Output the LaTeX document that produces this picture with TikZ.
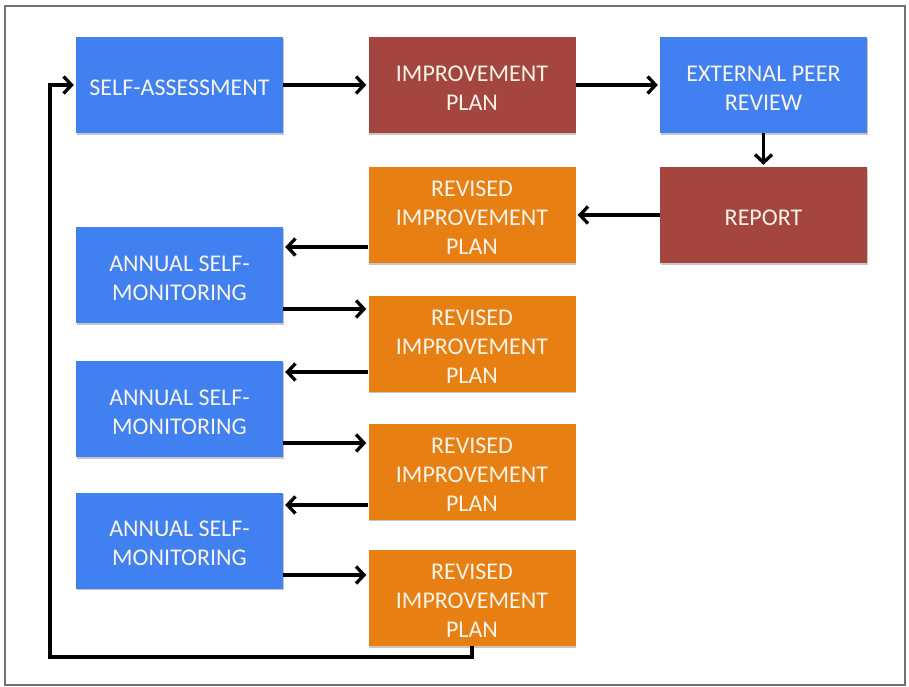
\documentclass[tikz,border=0pt]{standalone}
\usepackage{fontspec}
\setmainfont{Carlito}
\usetikzlibrary{arrows.meta,shadows}
\definecolor{bblue}{HTML}{4080F0}
\definecolor{bred}{HTML}{A4463F}
\definecolor{borange}{HTML}{E77F13}
\definecolor{btext}{HTML}{F8F4EA}
\definecolor{frame}{HTML}{707070}
\newcommand{\boxtxt}[1]{\raisebox{-5pt}[\height][\depth]{\begin{tabular}{@{}c@{}}#1\end{tabular}}}
\tikzset{
  box/.style={rectangle, minimum width=207pt, minimum height=96pt, inner sep=0pt,
    text=btext, font=\fontsize{24}{29}\selectfont,
    drop shadow={shadow xshift=0.8pt, shadow yshift=-1.6pt, opacity=0.22, fill=black}},
  bluebox/.style={box, fill=bblue},
  redbox/.style={box, fill=bred},
  orbox/.style={box, fill=borange},
  arr/.style={draw=black, line width=3.3pt, -{Straight Barb[length=8pt,width=17pt,line width=3.3pt]}, shorten >=2pt}
}
\begin{document}
\begin{tikzpicture}[x=1pt,y=-1pt]
\useasboundingbox (0,0) rectangle (909,687);
\draw[frame, line width=1.3pt] (5,6) rectangle (905,685);

\node[bluebox] (sa)  at (179.5,85) {\boxtxt{SELF-ASSESSMENT}};
\node[redbox]  (ip)  at (472,85) {\boxtxt{IMPROVEMENT\\PLAN}};
\node[bluebox] (epr) at (763.5,85) {\boxtxt{EXTERNAL PEER\\REVIEW}};
\node[redbox]  (rep) at (763.5,215) {\boxtxt{REPORT}};
\node[orbox]   (r1)  at (472,215) {\boxtxt{REVISED\\IMPROVEMENT\\PLAN}};
\node[bluebox] (a1)  at (179.5,275) {\boxtxt{ANNUAL SELF-\\MONITORING}};
\node[orbox]   (r2)  at (472,343.5) {\boxtxt{REVISED\\IMPROVEMENT\\PLAN}};
\node[bluebox] (a2)  at (179.5,409) {\boxtxt{ANNUAL SELF-\\MONITORING}};
\node[orbox]   (r3)  at (472,471.5) {\boxtxt{REVISED\\IMPROVEMENT\\PLAN}};
\node[bluebox] (a3)  at (179.5,540.5) {\boxtxt{ANNUAL SELF-\\MONITORING}};
\node[orbox]   (r4)  at (472,598) {\boxtxt{REVISED\\IMPROVEMENT\\PLAN}};

\draw[arr] (sa.east) -- (ip.west);
\draw[arr] (ip.east) -- (epr.west);
\draw[arr] (epr.south) -- (rep.north);
\draw[arr] (rep.west) -- (r1.east);
\draw[arr] (r1.west |- 0,247) -- (a1.east |- 0,247);
\draw[arr] (a1.east |- 0,309) -- (r2.west |- 0,309);
\draw[arr] (r2.west |- 0,372) -- (a2.east |- 0,372);
\draw[arr] (a2.east |- 0,443) -- (r3.west |- 0,443);
\draw[arr] (r3.west |- 0,505) -- (a3.east |- 0,505);
\draw[arr] (a3.east |- 0,575) -- (r4.west |- 0,575);
\coordinate (lb) at (50,657);
\draw[arr] (r4.south) |- (lb) |- (sa.west);
\end{tikzpicture}
\end{document}
